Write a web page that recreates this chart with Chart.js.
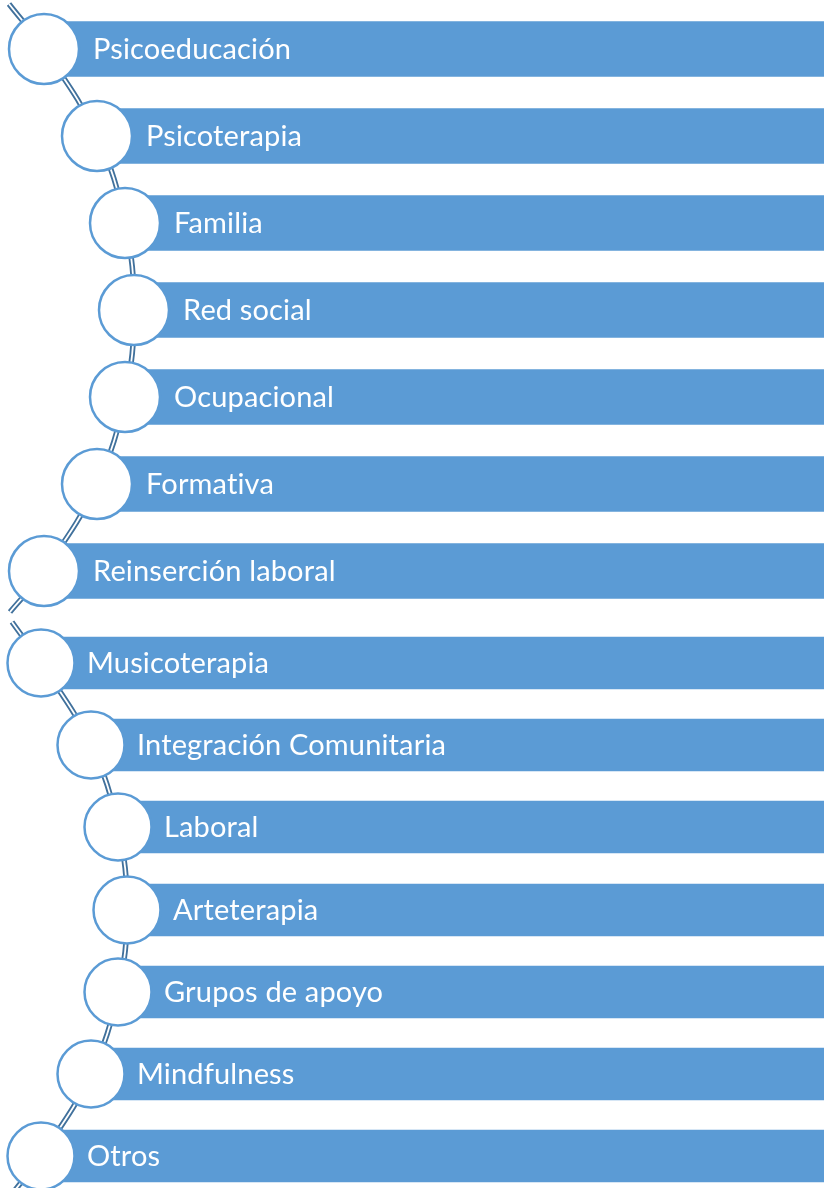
<!DOCTYPE html>
<html lang="es">
<head>
<meta charset="utf-8">
<title>Intervenciones</title>
<script src="https://cdn.jsdelivr.net/npm/chart.js@4.4.1/dist/chart.umd.min.js"></script>
<style>
  html, body { margin: 0; padding: 0; background: #fff; }
  #wrap { width: 824px; height: 1188px; }
</style>
</head>
<body>
<div id="wrap"><canvas id="chart" width="824" height="1188"></canvas></div>
<script>
// two curved lists (units = px in the 824x1188 frame)
const groupOneLabels = ["Psicoeducación", "Psicoterapia", "Familia", "Red social", "Ocupacional", "Formativa", "Reinserción laboral"];
const groupOneY = [49, 136, 223, 310, 397, 484, 571];
const groupOneX = [44, 97, 125, 134, 125, 97, 44];

const groupTwoLabels = ["Musicoterapia", "Integración Comunitaria", "Laboral", "Arteterapia", "Grupos de apoyo", "Mindfulness", "Otros"];
const groupTwoY = [663, 745, 827, 910, 992, 1074, 1156];
const groupTwoX = [41, 91, 118, 127, 118, 91, 41];

// where each connector enters / leaves the frame
const groupOneEnds = [[9, 4], [10, 612]];
const groupTwoEnds = [[12, 622], [12, 1194]];

const FRAME_W = 824, FRAME_H = 1188;
const BLUE = "#5B9BD5", DARK = "#41719C";

const pts = (xs, ys) => xs.map((x, i) => ({ x, y: ys[i] }));
const bars = (xs, ys) => xs.map((x, i) => ({ x: [x, FRAME_W], y: ys[i] }));
const path = (xs, ys, ends) => [{ x: ends[0][0], y: ends[0][1] }, ...pts(xs, ys), { x: ends[1][0], y: ends[1][1] }];

function connector(data, color, width, order) {
  return { type: "line", data, borderColor: color, borderWidth: width, tension: 0.4, pointRadius: 0, fill: false, order };
}
function circles(data, r, labels, gap) {
  return { type: "scatter", data, pointStyle: "circle", pointRadius: r, pointBackgroundColor: "#fff",
    pointBorderColor: BLUE, pointBorderWidth: 2.5, order: 0, labels, gap };
}

// white item labels next to each circle
const itemLabels = {
  id: "itemLabels",
  afterDatasetsDraw(chart) {
    const { ctx, scales: { x, y } } = chart;
    ctx.save();
    ctx.fillStyle = "#fff";
    ctx.font = "29px Lato, 'Open Sans', sans-serif";
    ctx.letterSpacing = "0.15px"; // keeps Lato from joining "ti"
    ctx.textBaseline = "middle";
    chart.data.datasets.forEach((ds) => {
      if (!ds.labels) return;
      ds.data.forEach((p, i) => ctx.fillText(ds.labels[i], x.getPixelForValue(p.x) + ds.gap, y.getPixelForValue(p.y) + 1));
    });
    ctx.restore();
  }
};

new Chart(document.getElementById("chart"), {
  type: "bar",
  data: {
    datasets: [
      connector(path(groupOneX, groupOneY, groupOneEnds), DARK, 5.5, 4),
      connector(path(groupOneX, groupOneY, groupOneEnds), "#fff", 1.8, 3),
      connector(path(groupTwoX, groupTwoY, groupTwoEnds), DARK, 5.5, 4),
      connector(path(groupTwoX, groupTwoY, groupTwoEnds), "#fff", 1.8, 3),
      { type: "bar", indexAxis: "y", data: bars(groupOneX, groupOneY), backgroundColor: BLUE, barThickness: 55, grouped: false, order: 2 },
      { type: "bar", indexAxis: "y", data: bars(groupTwoX, groupTwoY), backgroundColor: BLUE, barThickness: 52, grouped: false, order: 2 },
      circles(pts(groupOneX, groupOneY), 35, groupOneLabels, 49),
      circles(pts(groupTwoX, groupTwoY), 33.5, groupTwoLabels, 46),
    ]
  },
  options: {
    responsive: false,
    animation: false,
    events: [],
    layout: { padding: 0, autoPadding: false },
    plugins: { legend: { display: false }, tooltip: { enabled: false } },
    scales: {
      x: { type: "linear", min: 0, max: FRAME_W, display: false, offset: false },
      y: { type: "linear", min: 0, max: FRAME_H, reverse: true, display: false, offset: false },
    },
  },
  plugins: [itemLabels],
});
</script>
</body>
</html>
